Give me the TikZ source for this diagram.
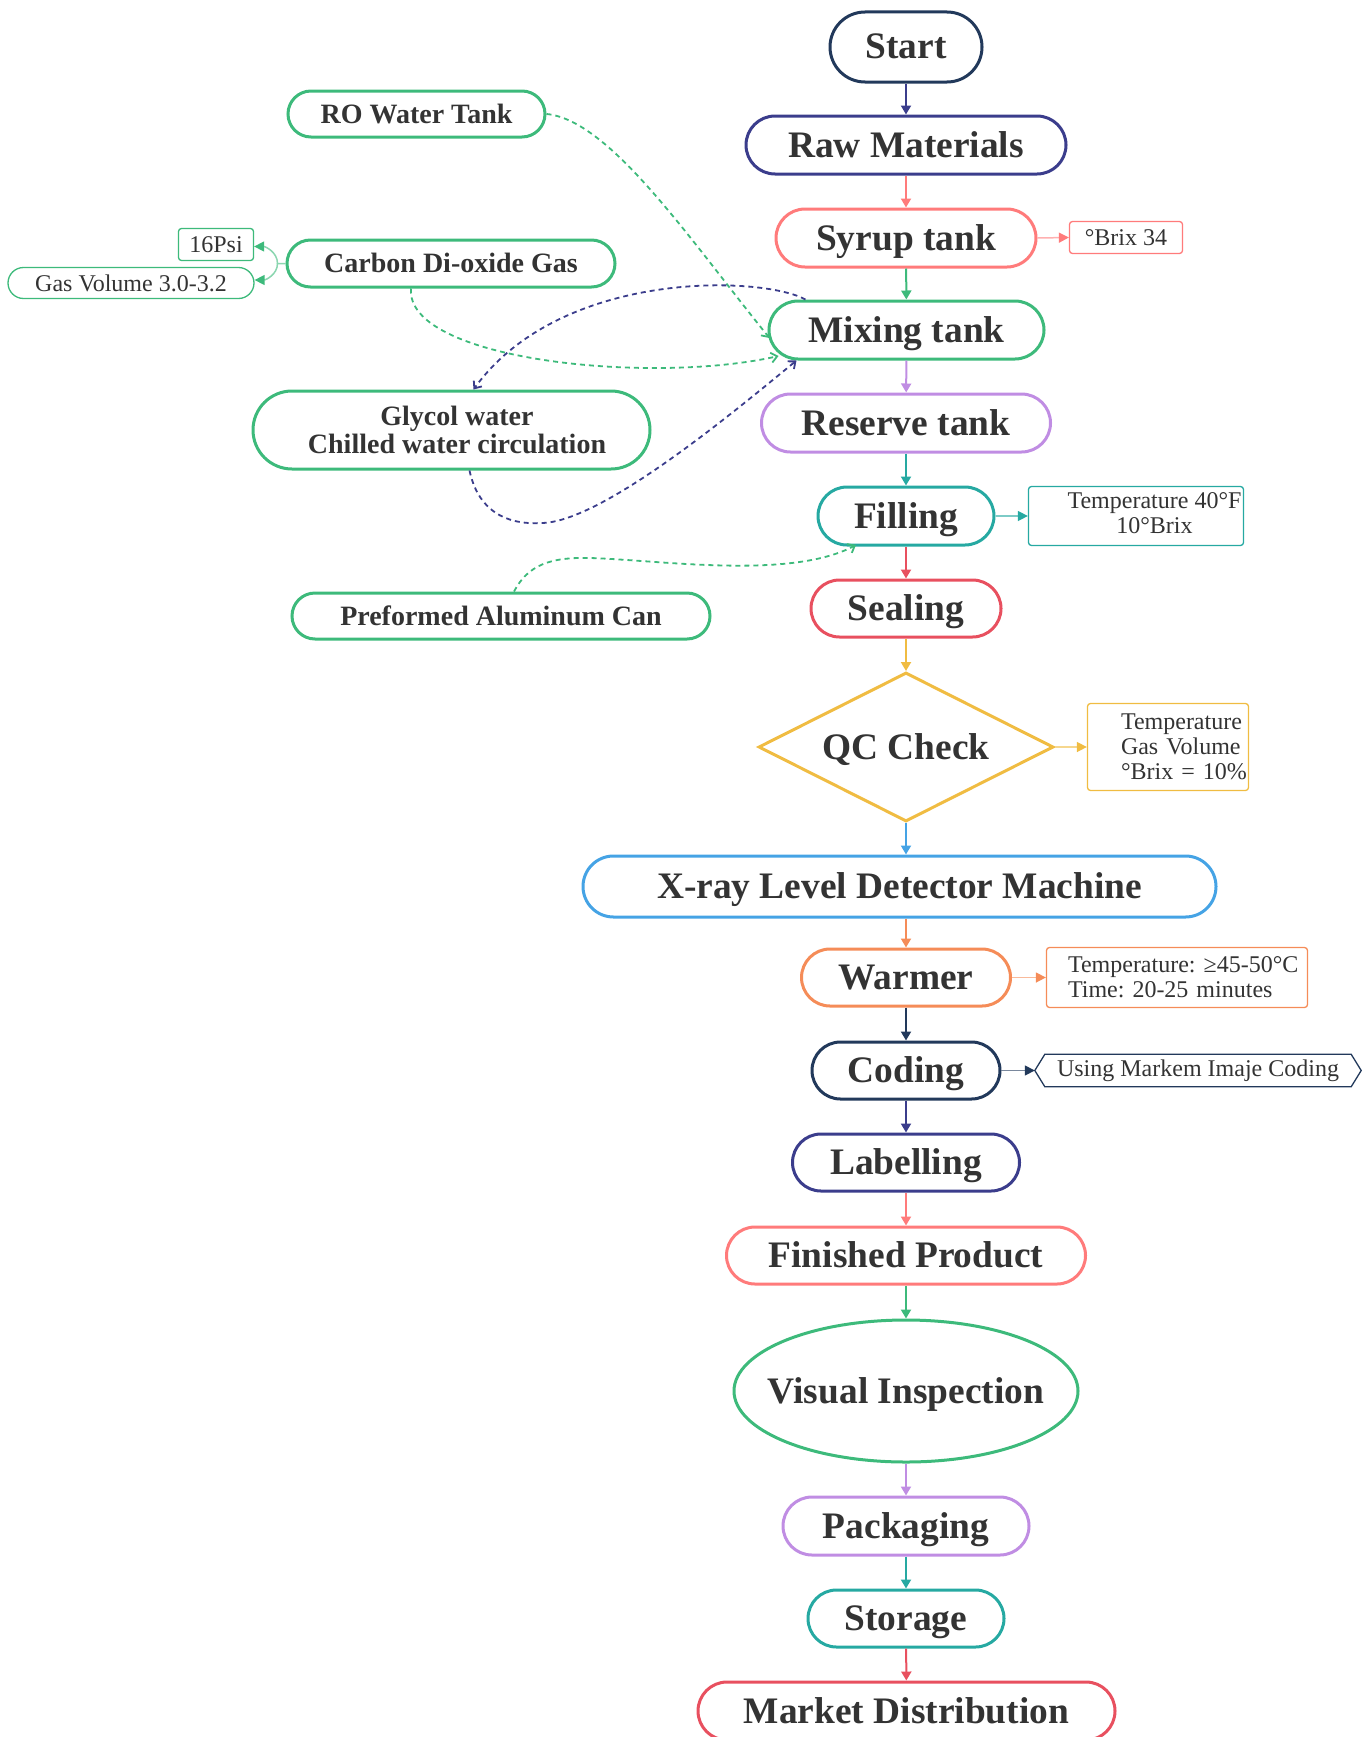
\documentclass[tikz,border=0pt]{standalone}
\usepackage{fontspec}
\setmainfont{Liberation Serif}
\usetikzlibrary{arrows.meta,shapes.geometric}
\frenchspacing

\definecolor{navy}{HTML}{22395B}
\definecolor{indigo}{HTML}{3B3D8C}
\definecolor{salmon}{HTML}{FF7B7B}
\definecolor{leaf}{HTML}{3DBA7B}
\definecolor{lav}{HTML}{C08DE3}
\definecolor{teal2}{HTML}{26A9A2}
\definecolor{rose}{HTML}{E8505F}
\definecolor{gold}{HTML}{F0BC42}
\definecolor{sky}{HTML}{45A3E5}
\definecolor{tang}{HTML}{F58C58}
\definecolor{ink}{HTML}{333333}

\begin{document}
\begin{tikzpicture}[x=1pt,y=-1pt,
  stage/.style={draw=#1, line width=3pt, inner sep=0pt, text=ink,
    text height=30pt, text depth=6pt,
    font=\bfseries\fontsize{37.4}{40}\selectfont},
  dims/.style 2 args={minimum width=#1pt, minimum height=#2pt, rounded corners=#2pt/2},
  feed/.style={draw=leaf, line width=3pt, inner sep=0pt, text=ink, align=center,
    font=\bfseries\fontsize{28}{28}\selectfont},
  oneline/.style={text height=24.5pt, text depth=6pt},
  note/.style={draw=#1, line width=1.3pt, rounded corners=3pt, inner sep=0pt, text=ink,
    font=\fontsize{24}{25}\selectfont},
  flow/.style={draw=#1, line width=2pt, -{Triangle[length=9pt,width=10pt]}},
  aside/.style={draw=#1!60, line width=1.5pt, -{Triangle[length=10pt,width=10pt,color=#1]}},
  supply/.style={draw=#1, line width=1.8pt, dash pattern=on 5pt off 4pt,
    -{Straight Barb[length=6pt,width=10pt]}},
]
\useasboundingbox (0,0) rectangle (1367,1737);

% main process column
\node[stage=navy,   dims={152}{70}] (start)    at (906,47)     {Start};
\node[stage=indigo, dims={320}{58}] (raw)      at (906,145)    {Raw Materials};
\node[stage=salmon, dims={260}{58}] (syrup)    at (906,238)    {Syrup tank};
\node[stage=leaf,   dims={275}{58}] (mix)      at (906.5,330)  {Mixing tank};
\node[stage=lav,    dims={289}{58}] (reserve)  at (906,423)    {Reserve tank};
\node[stage=teal2,  dims={176}{58}] (fill)     at (906,516)    {Filling};
\node[stage=rose,   dims={190}{57}] (seal)     at (906,608.5)  {Sealing};
\node[stage=gold, diamond, aspect=1.97, minimum width=295pt, minimum height=149pt]
                                    (qc)       at (906,747)    {QC Check};
\node[stage=sky,    dims={633}{61}] (xray)     at (899.5,886.5) {X-ray Level Detector Machine};
\node[stage=tang,   dims={209}{57}] (warm)     at (906,977.5)  {Warmer};
\node[stage=navy,   dims={188}{57}] (code)     at (906,1070.5) {Coding};
\node[stage=indigo, dims={227}{57}] (label)    at (906,1162.5) {Labelling};
\node[stage=salmon, dims={359}{57}] (finished) at (906,1255.5) {Finished Product};
\node[stage=leaf, ellipse, inner xsep=-17pt, minimum width=344pt, minimum height=142pt]
                                    (visual)   at (906,1391)   {Visual Inspection};
\node[stage=lav,    dims={246}{58}] (pack)     at (906,1526)   {Packaging};
\node[stage=teal2,  dims={196}{57}] (store)    at (906,1618.5) {Storage};
\node[stage=rose,   dims={417}{58}] (market)   at (906.5,1711) {Market Distribution};

% specification notes
\node[note=salmon, minimum width=113pt, minimum height=32pt] (brix) at (1126,237.5) {°Brix 34};
\node[note=teal2, minimum width=215pt, minimum height=59pt] (t40) at (1136,516)
  {\hspace*{37pt}\begin{tabular}{@{}c@{}}Temperature 40°F\\10°Brix\end{tabular}};
\node[note=gold, text width=94pt, inner xsep=33.5pt, align=left, minimum height=87pt]
  (qcnote) at (1168,747) {\mbox{Temperature}\\\mbox{Gas Volume}\\\mbox{°Brix = 10\%}};
\node[note=tang, text width=218pt, inner xsep=21.5pt, align=left, minimum height=60pt]
  (warmnote) at (1177,977.5) {\mbox{Temperature: ≥45-50°C}\\\mbox{Time: 20-25 minutes}};
\node[text=ink, font=\fontsize{24}{25}\selectfont, minimum width=306pt, minimum height=32pt,
  inner sep=0pt] (hex) at (1198,1070.5) {Using Markem Imaje Coding};
\draw[navy, line width=1.3pt] (hex.north west) -- (hex.north east) -- ([xshift=10pt]hex.east)
  -- (hex.south east) -- (hex.south west) -- ([xshift=-10pt]hex.west) -- cycle;

% feed inputs on the left
\node[feed, oneline, dims={257}{46}] (ro)  at (416.5,114) {RO Water Tank};
\node[feed, oneline, dims={328}{47}] (co2) at (451,263.5) {Carbon Di-oxide Gas};
\node[feed, dims={397}{78}] (gly) at (451.5,430)
  {\hspace*{11pt}Glycol water\\\hspace*{11pt}Chilled water circulation};
\node[feed, oneline, dims={418}{46}] (pre) at (501,616)   {Preformed Aluminum Can};
\node[note=leaf, minimum width=75pt, minimum height=32pt] (psi) at (216,244.5) {16Psi};
\node[note=leaf, dims={246}{31}] (gv) at (131,283) {Gas Volume 3.0-3.2};

% main flow
\draw[flow=indigo] (start) -- (raw);
\draw[flow=salmon] (raw) -- (syrup);
\draw[flow=leaf]   (syrup) -- (mix);
\draw[flow=lav]    (mix) -- (reserve);
\draw[flow=teal2]  (reserve) -- (fill);
\draw[flow=rose]   (fill) -- (seal);
\draw[flow=gold]   (seal) -- (qc);
\draw[flow=sky]    (qc) -- (qc.south |- xray.north);
\draw[flow=tang]   (warm.north |- xray.south) -- (warm);
\draw[flow=navy]   (warm) -- (code);
\draw[flow=indigo] (code) -- (label);
\draw[flow=salmon] (label) -- (finished);
\draw[flow=leaf]   (finished) -- (visual);
\draw[flow=lav]    (visual) -- (pack);
\draw[flow=teal2]  (pack) -- (store);
\draw[flow=rose]   (store) -- (market);

% notes
\draw[aside=salmon] (syrup.east) -- (brix.west);
\draw[aside=teal2]  (fill.east) -- (t40.west);
\draw[aside=gold]   (qc.east) -- (qcnote.west);
\draw[aside=tang]   (warm.east) -- (warmnote.west);
\draw[aside=navy]   (code.east) -- ([xshift=-10pt]hex.west);

% gas parameters
\draw[aside=leaf] (co2.west) -- ++(-8,0) coordinate (gj) to[out=90,in=0] ([yshift=-2pt]psi.east);
\draw[aside=leaf] (gj) to[out=-90,in=0] ([yshift=3pt]gv.east);

% supply lines
\draw[supply=leaf] (ro.east) .. controls (610,120) and (690,240) .. ([shift={(-137pt,-8pt)}]mix.center);
\draw[supply=leaf] ([xshift=-40pt]co2.south) .. controls (405,360) and (650,385) .. ([shift={(-128pt,-26pt)}]mix.center);
\draw[supply=indigo] ([xshift=-101pt]mix.north) .. controls (760,275) and (560,270) .. ([xshift=22pt]gly.north);
\draw[supply=indigo] ([xshift=18pt]gly.south) .. controls (478,510) and (505,525) .. (541,523)
  .. controls (601,523) and (735,411) .. ([xshift=-110pt]mix.south);
\draw[supply=leaf] ([xshift=13pt]pre.north) .. controls (528,565) and (550,557) .. (590,558)
  .. controls (660,560) and (790,580) .. ([shift={(-50pt,-29pt)}]fill.center);
\end{tikzpicture}
\end{document}
